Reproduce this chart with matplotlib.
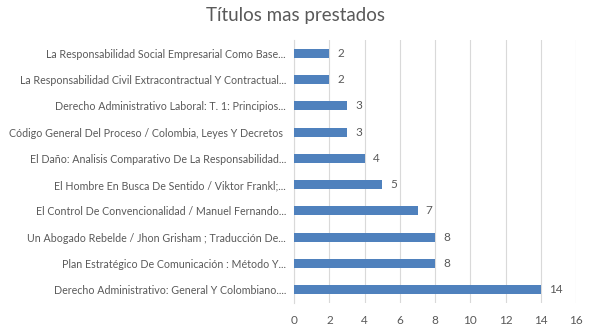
import matplotlib
matplotlib.use("Agg")
import matplotlib.pyplot as plt

# data, top to bottom as shown in the chart
titulos = [
    "La Responsabilidad Social Empresarial Como Base...",
    "La Responsabilidad Civil Extracontractual Y Contractual...",
    "Derecho Administrativo Laboral: T. 1: Principios...",
    "Código General Del Proceso / Colombia, Leyes Y Decretos ",
    "El Daño: Analisis Comparativo De La Responsabilidad...",
    "El Hombre En Busca De Sentido / Viktor Frankl;...",
    "El Control De Convencionalidad / Manuel Fernando...",
    "Un Abogado Rebelde / Jhon Grisham ; Traducción De...",
    "Plan Estratégico De Comunicación : Método Y...",
    "Derecho Administrativo: General Y Colombiano....",
]
prestamos = [2, 2, 3, 3, 4, 5, 7, 8, 8, 14]
xticks = [0, 2, 4, 6, 8, 10, 12, 14, 16]

plt.rcParams['font.family'] = ['Lato', 'DejaVu Sans']
gris = '#595959'
azul = '#4f81bd'

fig = plt.figure(figsize=(5.92, 3.34), dpi=100)
ax = fig.add_axes([0.497, 0.093, 0.476, 0.787])

pos = list(range(len(titulos)))
ax.barh(pos, prestamos, height=0.34, color=azul, zorder=3)
for p, v in zip(pos, prestamos):
    ax.text(v + 0.45, p, str(v), va='center', ha='left', fontsize=8.5, color=gris)

ax.set_yticks(pos)
ax.set_yticklabels(titulos, fontsize=7.7, color=gris)
ax.set_ylim(len(titulos) - 0.5, -0.5)
ax.set_xlim(0, 16)
ax.set_xticks(xticks)
ax.set_xticklabels([str(t) for t in xticks], fontsize=8.5, color=gris)
ax.tick_params(length=0, pad=6)
ax.tick_params(axis='x', pad=9)
ax.grid(axis='x', color='#d9d9d9', linewidth=0.8, zorder=0)
for s in ['top', 'right', 'bottom']:
    ax.spines[s].set_visible(False)
ax.spines['left'].set_color('#d9d9d9')

fig.text(0.5, 0.955, "Títulos mas prestados", ha='center', va='center',
         fontsize=13.5, color=gris)

fig.savefig("out.png", dpi=100)
